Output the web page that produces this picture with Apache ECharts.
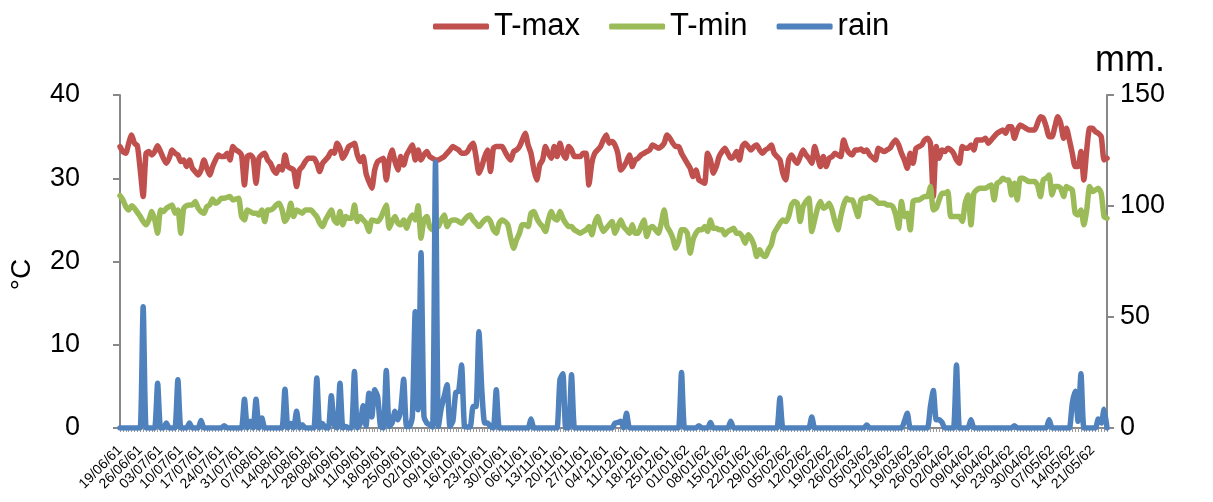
<!DOCTYPE html>
<html>
<head>
<meta charset="utf-8">
<script src="https://cdn.jsdelivr.net/npm/echarts@6/dist/echarts.min.js"></script>
<style>
html,body{margin:0;padding:0;background:#fff;}
#chart{width:1213px;height:502px;}
</style>
</head>
<body>
<div id="chart"></div>
<script>
// Categories: daily dates from 19/06/61 (B.E. 2561) to 26/05/62
var startDate = Date.UTC(2018, 5, 19);
var dayCount = 342;
var categories = [];
for (var d = 0; d < dayCount; d++) {
  var dt = new Date(startDate + d * 86400000);
  var dd = ('0' + dt.getUTCDate()).slice(-2);
  var mm = ('0' + (dt.getUTCMonth() + 1)).slice(-2);
  var yy = String(dt.getUTCFullYear() + 543).slice(-2);
  categories.push(dd + '/' + mm + '/' + yy);
}

var tMax = [
33.8,33.2,33.0,34.2,35.2,34.2,33.9,31.0,27.8,33.0,33.2,32.8,33.2,33.9,33.2,32.4,31.8,32.4,33.4,33.0,
32.8,32.0,32.2,31.4,32.2,31.2,30.8,30.4,31.0,32.2,31.2,30.4,31.4,32.2,32.8,32.6,32.6,33.0,32.2,33.8,
33.4,33.2,32.8,29.2,32.6,32.8,32.4,29.4,32.4,32.8,33.0,32.2,31.8,31.0,30.6,31.4,31.0,32.8,31.4,31.2,
31.0,29.0,31.0,31.4,32.0,32.4,32.4,32.4,31.8,30.8,31.8,32.2,32.6,33.2,33.0,34.2,33.6,32.4,33.0,33.8,
34.0,34.2,32.8,32.0,32.6,30.6,29.6,28.8,31.0,32.0,32.2,32.4,29.8,32.2,33.4,32.0,31.0,32.6,31.6,32.8,
33.4,34.0,32.2,33.4,32.2,32.8,33.2,32.6,32.4,32.2,32.2,32.4,32.6,33.0,33.4,33.8,33.6,33.4,33.0,33.0,
33.2,33.8,34.2,32.6,30.6,31.4,32.6,33.4,30.8,33.6,33.8,33.8,33.8,33.2,32.6,32.2,33.2,33.4,33.8,34.6,
35.4,34.0,33.0,31.0,29.8,31.6,32.2,33.8,33.0,32.4,33.8,32.6,34.2,33.0,32.4,33.8,33.4,32.6,32.6,32.6,
33.0,33.0,29.2,31.8,33.0,33.4,33.8,34.6,35.2,34.2,34.4,34.0,33.0,31.0,31.4,32.0,32.8,31.4,32.2,32.4,
32.8,33.0,33.2,33.4,34.0,33.8,33.6,33.8,34.2,35.2,34.8,34.2,33.8,33.8,33.0,32.4,31.8,31.2,30.2,31.0,
29.8,29.6,29.4,33.0,32.2,30.6,31.4,32.6,33.2,33.6,33.0,32.4,32.6,33.2,32.2,33.8,34.2,33.8,33.4,33.8,
34.0,33.4,33.0,33.4,33.6,34.0,33.0,32.6,32.2,30.6,29.8,32.2,32.8,32.2,31.8,32.6,33.4,32.8,32.4,31.8,
33.8,32.6,31.4,32.6,31.4,32.4,32.6,33.0,32.8,32.6,34.6,33.6,33.0,32.8,33.4,33.4,33.5,33.2,33.4,32.8,
32.5,32.2,33.6,33.4,33.2,33.4,33.6,34.2,34.6,34.0,33.0,32.2,31.2,33.0,31.8,33.6,33.8,34.0,34.6,34.8,
34.2,27.8,33.8,32.4,33.4,33.2,33.6,33.4,33.0,32.2,31.8,33.8,33.6,33.6,34.0,33.4,34.6,34.6,34.6,34.8,
34.2,34.6,35.0,35.4,35.6,35.8,35.4,36.2,36.2,34.8,35.8,36.4,36.2,36.0,35.8,35.8,35.8,36.6,37.4,37.2,
36.2,35.0,35.0,36.2,37.4,36.6,34.8,36.0,34.6,33.0,31.4,31.4,33.2,29.8,33.4,36.0,36.0,35.6,35.4,35.0,
32.2,32.4
];

var tMin = [
27.9,27.4,26.6,26.2,26.7,26.4,25.9,25.4,24.8,24.4,25.0,26.0,25.0,23.4,26.2,26.0,26.4,26.6,26.8,25.8,
26.2,23.4,26.4,26.7,26.8,26.8,27.2,26.4,26.0,25.8,26.6,26.8,27.5,27.0,27.2,27.6,27.6,27.7,27.8,27.4,
27.5,27.6,25.4,25.0,26.2,26.0,25.8,25.8,25.6,26.2,24.8,26.2,26.2,26.4,26.8,27.0,26.2,24.8,25.4,27.0,
25.4,26.2,26.0,25.8,26.2,26.2,26.2,25.8,25.4,24.6,24.2,25.0,25.6,26.2,25.0,24.6,26.0,24.4,25.4,25.2,
25.2,26.8,24.8,25.4,25.0,24.6,23.6,25.0,24.9,24.8,25.2,26.0,26.8,24.0,24.8,25.4,24.6,24.4,25.0,24.0,
25.0,25.6,25.0,26.7,22.8,25.0,25.4,24.2,23.8,24.0,24.2,25.0,25.6,24.2,24.8,25.0,25.0,24.8,24.6,25.0,
25.4,25.6,25.0,24.6,24.2,24.6,25.0,25.2,24.8,23.8,23.4,24.6,25.0,24.8,24.4,22.8,21.6,22.6,23.4,24.4,
24.4,24.2,25.8,26.0,25.2,24.6,24.2,23.6,25.0,26.0,25.2,25.0,26.0,25.2,24.6,24.2,24.2,23.8,23.6,23.4,
23.6,23.8,24.2,23.2,24.6,25.4,24.4,23.6,24.0,24.4,24.8,23.4,24.2,25.0,24.2,23.8,23.4,24.4,23.4,23.4,
24.2,25.0,23.0,24.0,24.2,23.8,23.4,24.6,26.2,24.2,23.6,22.8,21.6,22.4,23.8,23.8,23.4,21.0,22.6,23.4,
23.8,23.8,24.2,23.6,25.0,24.0,24.0,23.8,23.8,23.2,23.6,23.8,24.0,23.4,23.4,23.0,22.2,23.2,22.8,22.0,
20.6,21.4,20.8,20.6,21.4,22.0,23.4,24.0,24.6,25.0,24.8,25.4,26.8,27.2,27.0,24.8,26.6,27.2,27.6,23.6,
25.0,26.4,27.2,26.4,26.6,27.0,26.2,24.8,23.8,25.4,26.8,27.6,27.4,27.4,26.4,25.4,27.4,27.6,27.6,27.8,
27.6,27.4,27.0,27.0,27.0,26.8,26.8,26.6,25.6,24.0,27.2,25.4,25.8,23.8,27.2,27.4,27.4,27.6,27.8,27.8,
29.0,26.2,26.4,27.4,28.2,28.2,28.4,25.4,25.4,25.4,25.4,24.8,27.0,28.0,24.4,28.2,28.6,28.8,28.8,28.8,
29.0,29.2,27.4,29.4,29.6,30.0,29.8,29.8,28.0,29.4,27.4,30.0,30.0,29.8,29.6,29.6,29.6,29.2,27.8,29.8,
30.0,30.4,28.0,29.0,29.0,28.8,27.8,29.0,28.8,28.6,25.8,25.6,26.2,24.4,26.2,29.0,28.4,28.6,28.8,28.2,
25.4,25.2
];

var rain = [
0,0,0,0,0,0,0,0,54.6,0,0,0,0,20.2,0,0,2.2,0,0,0,
21.7,0,0,0,2.2,0,0,0,3.4,0,0,0,0,0,0,0,1,0,0,0,
0,0,0,13,0,3,0,13,0,4.5,0,0,0,0,0,0,0,17.5,0,2,
0,7.5,0,1.5,0,0,0,0,22.5,0,2,0,0,14.5,1.5,0,20.2,0,0.7,0,
0,25.4,0,2,10,1,15.7,5,17.2,14.2,0.7,0,25.9,0.7,2.2,7.5,3.7,8,22,0.7,
0.7,5,52.4,8.2,78.9,5.2,2.2,1.5,0.5,119.8,0.7,9,14.2,19.5,0.7,3,16,16.5,28.4,0.7,
0.5,0.5,9.7,9.7,43.4,17.2,2.2,2.2,0.7,0,17.2,0,0,0,0,0,0,0,0,0,
0,0,4,0,0,0,0,0,0,0,0,0,21.7,24.4,0,0,24,0,0,0,
0,0,0,0,0,0,0,0,0,0,0,2.2,2.5,3,0,6.7,0,0,0,0,
0,0,0,0,0,0,0,0,0,0,0,0,0,0,25,0,0,0,0,0,
1,0,0,0,2.5,0,0,0,0,0,0,3,0,0,0,0,0,0,0,0,
0,0,0,0,0,0,0,0,13.5,0,0,0,0,0,0,0,0,0,0,5,
0,0,0,0,0,0,0,0,0,0,0,0,0,0,0,0,0,0,1.3,0,
0,0,0,0,0,0,0,0,0,0,0,3,6.7,0,0,0,0,0,0,0,
9.7,16.9,3.7,3.7,2.5,0,0,0,0,28.4,0,0,0,0,3.7,0,0,0,0,0,
0,0,0,0,0,0,0,0,0,1,0,0,0,0,0,0,0,0,0,0,
0,3.7,0,0,0,0,0,0,0,11,16.5,3,24.4,0,0,0,0,0,4,2.2,
8.5,0
];

var leftTicks = [0, 10, 20, 30, 40];
var rightTicks = [0, 50, 100, 150];
var labelEvery = 7;

var chart = echarts.init(document.getElementById('chart'), null, {renderer: 'canvas'});
var font = 'Liberation Sans, Arial, sans-serif';
var axisGray = '#888888';

chart.setOption({
  animation: false,
  backgroundColor: '#ffffff',
  textStyle: {fontFamily: font},
  legend: {
    left: 428,
    top: 6,
    itemWidth: 56,
    itemHeight: 6,
    itemGap: 29,
    icon: 'roundRect',
    textStyle: {fontSize: 31, color: '#000', fontFamily: font},
    data: ['T-max', 'T-min', 'rain']
  },
  grid: {left: 118, right: 106, top: 95, bottom: 74, containLabel: false},
  xAxis: {
    type: 'category',
    data: categories,
    boundaryGap: false,
    axisLine: {lineStyle: {color: axisGray, width: 2}},
    axisTick: {interval: 0, length: 4, lineStyle: {color: '#999', width: 1}},
    axisLabel: {
      interval: function (idx) { return idx % labelEvery === 0; },
      showMinLabel: true, showMaxLabel: true, hideOverlap: false,
      rotate: 45, fontSize: 14, lineHeight: 11, color: '#000', margin: 20, fontFamily: font
    },
    splitLine: {show: false}
  },
  yAxis: [
    {
      type: 'value',
      min: leftTicks[0], max: leftTicks[leftTicks.length - 1], interval: 10,
      name: '°C', nameLocation: 'middle', nameGap: 84, nameRotate: 90,
      nameTextStyle: {fontSize: 28, color: '#000', fontFamily: font, padding: [0, 26, 0, 0]},
      axisLine: {show: true, lineStyle: {color: axisGray, width: 2}},
      axisTick: {show: true, inside: false, length: 7, lineStyle: {color: axisGray, width: 2}},
      axisLabel: {fontSize: 27, color: '#000', margin: 40, fontFamily: font},
      splitLine: {show: false}
    },
    {
      type: 'value',
      min: rightTicks[0], max: rightTicks[rightTicks.length - 1], interval: 50,
      name: 'mm.', nameLocation: 'end', nameGap: 16,
      nameTextStyle: {fontSize: 36, color: '#000', fontFamily: font, align: 'left', padding: [0, 0, 0, -12]},
      axisLine: {show: true, lineStyle: {color: axisGray, width: 2}},
      axisTick: {show: true, inside: false, length: 7, lineStyle: {color: axisGray, width: 2}},
      axisLabel: {fontSize: 27, color: '#000', margin: 13, fontFamily: font},
      splitLine: {show: false}
    }
  ],
  series: [
    {
      name: 'T-max', type: 'line', yAxisIndex: 0, data: tMax,
      showSymbol: false, symbol: 'none', smooth: 0.2,
      lineStyle: {color: '#C0504D', width: 5.5, join: 'round', cap: 'round'},
      itemStyle: {color: '#C0504D'}
    },
    {
      name: 'T-min', type: 'line', yAxisIndex: 0, data: tMin,
      showSymbol: false, symbol: 'none', smooth: 0.2,
      lineStyle: {color: '#9BBB59', width: 5.5, join: 'round', cap: 'round'},
      itemStyle: {color: '#9BBB59'}
    },
    {
      name: 'rain', type: 'line', yAxisIndex: 1, data: rain,
      showSymbol: false, symbol: 'none', smooth: 0.2,
      lineStyle: {color: '#4F81BD', width: 5.5, join: 'round', cap: 'round'},
      itemStyle: {color: '#4F81BD'}
    }
  ]
});
</script>
</body>
</html>
